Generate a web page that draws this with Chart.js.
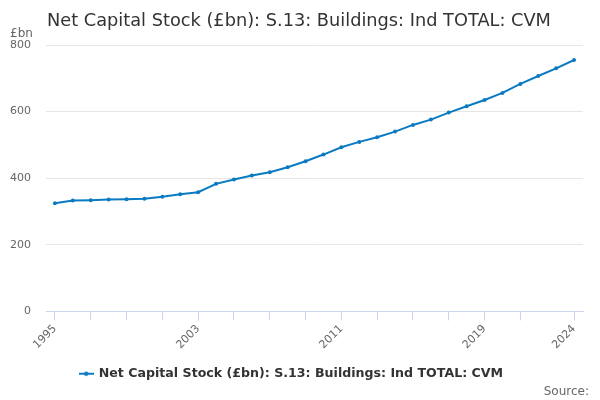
<!DOCTYPE html>
<html>
<head>
<meta charset="utf-8">
<script src="https://cdn.jsdelivr.net/npm/chart.js@4"></script>
<style>
  html, body { margin: 0; padding: 0; background: #fff; }
  #wrap { width: 600px; height: 400px; }
</style>
</head>
<body>
<div id="wrap"><canvas id="capital-stock__chart"></canvas></div>
<script>
const years = ['1995','1996','1997','1998','1999','2000','2001','2002','2003','2004',
               '2005','2006','2007','2008','2009','2010','2011','2012','2013','2014',
               '2015','2016','2017','2018','2019','2020','2021','2022','2023','2024'];
const stock = [325, 333, 334, 336, 337, 338, 344, 352, 358, 383,
               396, 408, 418, 433, 451, 471, 493, 509, 523, 540,
               560, 576, 597, 616, 635, 656, 683, 707, 730, 755];
const tickYears = ['1995','1997','1999','2001','2003','2005','2007','2009','2011',
                   '2013','2015','2017','2019','2021','2024'];
const labelYears = ['1995','2003','2011','2019','2024'];
const yTicks = [0, 200, 400, 600, 800];

const seriesName = 'Net Capital Stock (£bn): S.13: Buildings: Ind TOTAL: CVM';
const lineColour = '#0a7bc2';
const FONT = '"DejaVu Sans", sans-serif';

// small line-with-dot marker for the legend
const marker = document.createElement('canvas');
marker.width = 15; marker.height = 8;
const mctx = marker.getContext('2d');
mctx.strokeStyle = lineColour;
mctx.lineWidth = 2;
mctx.beginPath(); mctx.moveTo(0, 4); mctx.lineTo(15, 4); mctx.stroke();
mctx.fillStyle = lineColour;
mctx.beginPath(); mctx.arc(7.5, 4, 2.2, 0, Math.PI * 2); mctx.fill();

const textPlugin = {
  id: 'extraText',
  afterDraw(chart) {
    const c = chart.ctx;
    c.save();
    c.textBaseline = 'alphabetic';
    c.fillStyle = '#333333';
    c.font = '17.75px ' + FONT;
    c.textAlign = 'left';
    c.fillText(seriesName, 47, 26);
    c.fillStyle = '#666666';
    c.font = '12px ' + FONT;
    c.fillText('£bn', 10, 37);
    c.textAlign = 'right';
    c.fillText('Source:', 589, 395);
    c.restore();
  }
};

const ctx = document.getElementById('capital-stock__chart').getContext('2d');
const capitalChart = new Chart(ctx, {
  type: 'line',
  data: {
    labels: years,
    datasets: [{
      label: seriesName,
      data: stock,
      borderColor: lineColour,
      backgroundColor: lineColour,
      borderWidth: 2,
      pointRadius: 2,
      pointBorderWidth: 0,
      pointHoverRadius: 3,
      pointStyle: 'circle',
      tension: 0
    }]
  },
  options: {
    responsive: true,
    maintainAspectRatio: false,
    animation: false,
    layout: { padding: { top: 45, right: 17, left: 0, bottom: 10 } },
    plugins: {
      title: { display: false },
      tooltip: { enabled: false },
      legend: {
        display: true,
        position: 'bottom',
        labels: {
          color: '#333333',
          font: { family: FONT, size: 12.6, weight: 'bold' },
          usePointStyle: true,
          pointStyle: marker,
          padding: 10,
          boxHeight: 8
        }
      }
    },
    scales: {
      x: {
        offset: true,
        afterFit: (scale) => { scale.height = 46; },
        grid: {
          offset: false,
          drawOnChartArea: false,
          drawTicks: true,
          tickLength: 9,
          color: (c) => tickYears.includes(years[c.index]) ? '#ccd6eb' : 'rgba(0,0,0,0)'
        },
        border: { display: true, color: '#ccd6eb' },
        ticks: {
          autoSkip: false,
          maxRotation: 45,
          minRotation: 45,
          color: '#666666',
          font: { family: FONT, size: 11 },
          padding: 2,
          callback: function (value) {
            const lab = this.getLabelForValue(value);
            return labelYears.includes(lab) ? lab : '';
          }
        }
      },
      y: {
        min: 0,
        max: 800,
        afterBuildTicks: (scale) => { scale.ticks = yTicks.map(v => ({ value: v })); },
        afterFit: (scale) => { scale.width = 46; },
        grid: { color: '#e6e6e6', drawTicks: false },
        border: { display: false },
        ticks: {
          color: '#666666',
          font: { family: FONT, size: 11 },
          padding: 15
        }
      }
    }
  },
  plugins: [textPlugin]
});
</script>
</body>
</html>
